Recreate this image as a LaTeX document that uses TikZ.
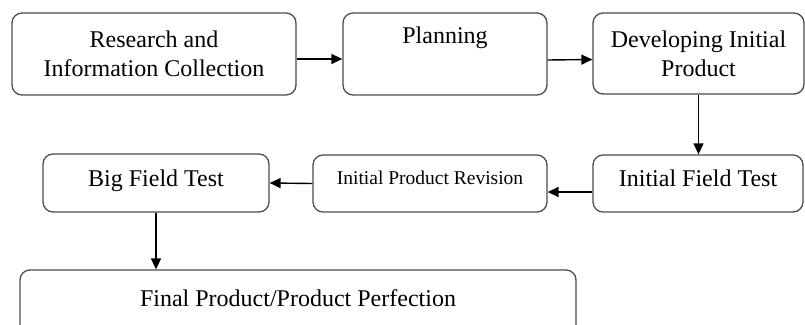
\documentclass[tikz,border=0pt]{standalone}
\usepackage{fontspec}
\setmainfont{Liberation Serif}
\usetikzlibrary{arrows.meta}
\begin{document}
\begin{tikzpicture}[x=1pt,y=-1pt,
  box/.style={draw=black!70, line width=1.3pt, rounded corners=10pt, align=center,
    font=\fontsize{24}{29}\selectfont, inner sep=0pt},
  small/.style={font=\fontsize{19.5}{23}\selectfont},
  conn/.style={-{Triangle[length=11pt,width=10pt]}, line width=1.4pt, black}]
\useasboundingbox (0,0) rectangle (805,324);
\clip (0,0) rectangle (805,324);
\node[box, minimum width=284pt, minimum height=82pt] (b1) at (154,54) {Research and\\Information Collection};
\node[box, minimum width=204pt, minimum height=82pt] (b2) at (445,54) {Planning\\\strut};
\node[box, minimum width=211pt, minimum height=81pt] (b3) at (698.5,53.5) {Developing Initial\\Product};
\node[box, minimum width=210pt, minimum height=57pt, text height=17pt, text depth=12pt] (ift) at (698,183.5) {Initial Field Test};
\node[box, small, minimum width=234pt, minimum height=57pt, text height=14pt, text depth=13pt] (ipr) at (430,183.5) {Initial Product Revision};
\node[box, minimum width=226pt, minimum height=58pt, text height=17pt, text depth=11pt] (bft) at (156,183) {Big Field Test};
\node[box, minimum width=556pt, minimum height=90pt, text height=17pt, text depth=35pt] (fin) at (298,315) {Final Product/Product Perfection};
\draw[conn] ([yshift=-5pt]b1.east) -- ([yshift=-5pt]b2.west);
\draw[conn] ([yshift=-6pt]b2.east) -- ([yshift=-6pt]b3.west);
\draw[conn] (b3.south) -- (b3.south |- ift.north);
\draw[conn] ([yshift=-8.5pt]ift.west) -- ([yshift=-8.5pt]ipr.east);
\draw[conn] (ipr.west) -- (bft.east);
\draw[conn] (bft.south) -- (bft.south |- fin.north);
\end{tikzpicture}
\end{document}
